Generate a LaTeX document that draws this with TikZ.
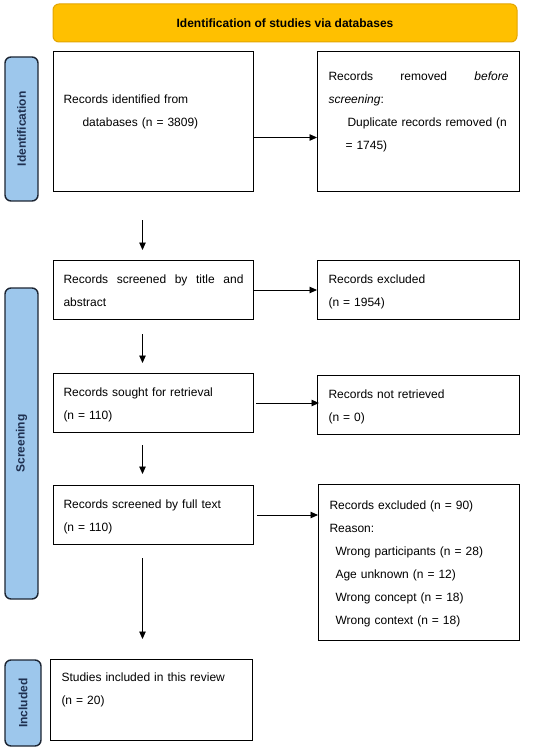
\documentclass[tikz,border=0pt]{standalone}
\usepackage{fontspec}
\setmainfont{Liberation Sans}
\usetikzlibrary{arrows.meta}
\definecolor{bannerfill}{HTML}{FFC000}
\definecolor{bannerline}{HTML}{E3A500}
\definecolor{phasefill}{HTML}{9DC7EC}
\definecolor{phaseline}{HTML}{1C2533}
\definecolor{phasetext}{HTML}{1F3050}

\tikzset{
    recbox/.style={draw, line width=1pt, anchor=north west, align=left,
        text width=180pt, inner xsep=10pt, font=\fontsize{12}{23}\selectfont},
    rightbox/.style={recbox, inner xsep=11pt},
    phase/.style={draw=phaseline, fill=phasefill, line width=1.4pt, rounded corners=6pt,
        rotate=90, text=phasetext, font=\bfseries\fontsize{12}{14}\selectfont},
    banner/.style={draw=bannerline, fill=bannerfill, line width=1pt, rounded corners=6pt,
        minimum width=464pt, minimum height=38pt, font=\bfseries\fontsize{12}{14}\selectfont},
    arr/.style={-{Triangle[length=7.5pt,width=6.5pt]}, line width=0.9pt},
}

\begin{document}
\begin{tikzpicture}[x=1pt, y=-1pt]
                    \useasboundingbox (0,0) rectangle (550,751);

                    \node[banner] (banner) at (285,23) {Identification of studies via databases};

                    \node[phase, minimum width=144pt, minimum height=33pt] (sideid) at (21.5,129) {Identification};
                    \node[phase, minimum width=311pt, minimum height=33pt] (sidescr) at (21.5,443.5) {Screening};
                    \node[phase, minimum width=86pt, minimum height=36pt] (sideinc) at (23,703) {Included};

                    \node[recbox, minimum height=140pt] (ident) at (53,51)
                        {\strut Records identified from\\
                         \hspace*{19pt}databases (n = 3809)\\
                         \strut};
                    \node[rightbox, minimum height=140pt] (removed) at (317,51)
                        {\hbox to\linewidth{\strut Records\hfill removed\hfill\textit{before}}\\
                         \textit{screening}:\\
                         \hspace*{19pt}Duplicate records removed (n\\
                         \hspace*{17pt}= 1745)\\
                         \strut};

                    \node[recbox, minimum height=59pt] (screen) at (53,260)
                        {\hbox to\linewidth{\strut Records\hfill screened\hfill by\hfill title\hfill and}\\
                         abstract\strut};
                    \node[rightbox, minimum height=59pt] (excl) at (317,260)
                        {\strut Records excluded\\
                         (n = 1954)\strut};

                    \node[recbox, minimum height=59pt] (sought) at (53,373)
                        {\strut Records sought for retrieval\\
                         (n = 110)\strut};
                    \node[rightbox, minimum height=59pt] (notret) at (317,375)
                        {\strut Records not retrieved\\
                         (n = 0)\strut};

                    \node[recbox, minimum height=59pt] (fulltext) at (53,485)
                        {\strut Records screened by full text\\
                         (n = 110)\strut};
                    \node[rightbox, text width=179pt, minimum height=156pt] (exclft) at (318,484)
                        {\strut Records excluded (n = 90)\\
                         Reason:\\
                         \hspace*{6pt}Wrong participants (n = 28)\\
                         \hspace*{6pt}Age unknown (n = 12)\\
                         \hspace*{6pt}Wrong concept (n = 18)\\
                         \hspace*{6pt}Wrong context (n = 18)\strut};

                    \node[rightbox, minimum height=81pt] (incl) at (50,659)
                        {\strut Studies included in this review\\
                         (n = 20)\\
                         \strut};

                    \draw[arr] ([yshift=-16pt]ident.east) -- ([yshift=-16pt]ident.east -| removed.west);
                    \draw[arr] (screen.east) -- (screen.east -| excl.west);
                    \draw[arr] ([xshift=2pt]sought.east) -- ([xshift=2pt]sought.east -| notret.west);
                    \draw[arr] ([xshift=3pt]fulltext.east) -- (fulltext.east -| exclft.west);

                    \draw[arr] ([xshift=-11pt,yshift=-28pt]ident.south) -- ([xshift=-11pt,yshift=10pt]screen.north);
                    \draw[arr] ([xshift=-11pt,yshift=-14pt]screen.south) -- ([xshift=-11pt,yshift=10pt]sought.north);
                    \draw[arr] ([xshift=-11pt,yshift=-12pt]sought.south) -- ([xshift=-11pt,yshift=11pt]fulltext.north);
                    \draw[arr] ([xshift=-11pt,yshift=-13pt]fulltext.south) -- ([xshift=-11pt,yshift=20pt]fulltext.south |- incl.north);
\end{tikzpicture}
\end{document}
